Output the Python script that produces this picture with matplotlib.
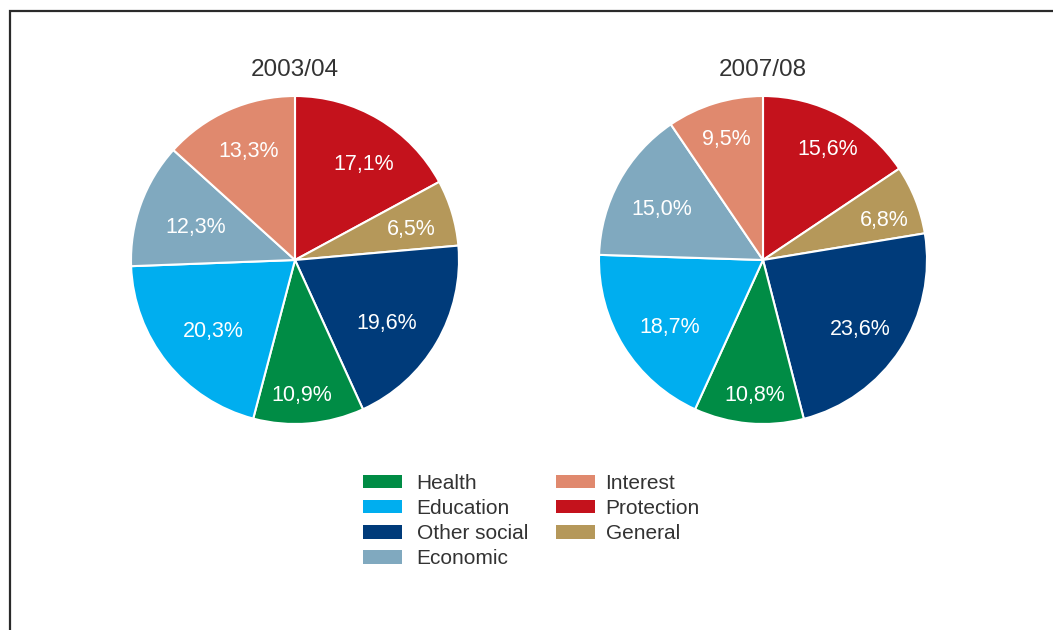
import matplotlib.pyplot as plt
from matplotlib.patches import Patch
import numpy as np

plt.rcParams['font.family'] = ['Liberation Sans', 'DejaVu Sans']

# shares of spending by function, clockwise from 12 o'clock
categories = ["Protection", "General", "Other social", "Health",
              "Education", "Economic", "Interest"]
share_2003 = [17.1, 6.5, 19.6, 10.9, 20.3, 12.3, 13.3]
share_2007 = [15.6, 6.8, 23.6, 10.8, 18.7, 15.0, 9.5]
years = ["2003/04", "2007/08"]

colors = {
    "Health": "#008c45",
    "Education": "#00aeef",
    "Other social": "#003b7a",
    "Economic": "#80a9bf",
    "Interest": "#e0896e",
    "Protection": "#c4121c",
    "General": "#b5985a",
}
legend_col1 = ["Health", "Education", "Other social", "Economic"]
legend_col2 = ["Interest", "Protection", "General"]

# where each percentage sits: fraction of radius, and turn (deg) off the wedge middle
label_frac_2003 = [0.715, 0.73, 0.68, 0.83, 0.66, 0.64, 0.72]
label_turn_2003 = [-4.9, -2.0, -4.3, -2.1, 2.6, 1.9, -1.0]
label_frac_2007 = [0.78, 0.78, 0.73, 0.83, 0.70, 0.69, 0.77]
label_turn_2007 = [-2.2, -3.7, -2.5, 1.6, 3.9, 2.3, -0.1]

W, H = 1053, 630
fig = plt.figure(figsize=(W / 100, H / 100), dpi=100)
ax = fig.add_axes([0, 0, 1, 1])

radius = 164
centres = [(295, H - 260), (763, H - 260)]
text_col = "#333333"

for (cx, cy), year, vals, fracs, turns in zip(
        centres, years, [share_2003, share_2007],
        [label_frac_2003, label_frac_2007], [label_turn_2003, label_turn_2007]):
    wedges, _ = ax.pie(vals, colors=[colors[c] for c in categories],
                       startangle=90, counterclock=False,
                       center=(cx, cy), radius=radius, frame=True,
                       wedgeprops=dict(edgecolor="white", linewidth=1.5))
    for w, v, f, t in zip(wedges, vals, fracs, turns):
        ang = np.deg2rad((w.theta1 + w.theta2) / 2 + t)
        ax.text(cx + f * radius * np.cos(ang), cy + f * radius * np.sin(ang),
                f"{v:.1f}".replace(".", ",") + "%",
                ha="center", va="center", color="white", fontsize=15.5)
    ax.text(cx, H - 70, year, ha="center", va="center",
            color=text_col, fontsize=17.5)

# frame around the panel (runs off the right and bottom edges)
ax.plot([10, 10, W + 5], [-5, H - 11, H - 11], color="#2a2a2a",
        linewidth=1.6, solid_joinstyle="miter", clip_on=False)

legend_kw = dict(loc="upper left", bbox_transform=ax.transData,
                 frameon=False, fontsize=15, borderpad=0, borderaxespad=0,
                 handlelength=1.85, handleheight=0.62, labelspacing=0.29,
                 labelcolor=text_col)
leg1 = ax.legend([Patch(facecolor=colors[c], edgecolor="none") for c in legend_col1],
                 legend_col1, bbox_to_anchor=(363, H - 474),
                 handletextpad=0.72, **legend_kw)
ax.add_artist(leg1)
ax.legend([Patch(facecolor=colors[c], edgecolor="none") for c in legend_col2],
          legend_col2, bbox_to_anchor=(556, H - 474),
          handletextpad=0.53, **legend_kw)

ax.set_xlim(0, W)
ax.set_ylim(0, H)
ax.set_aspect("equal")
ax.axis("off")

fig.savefig("out.png", dpi=100)
